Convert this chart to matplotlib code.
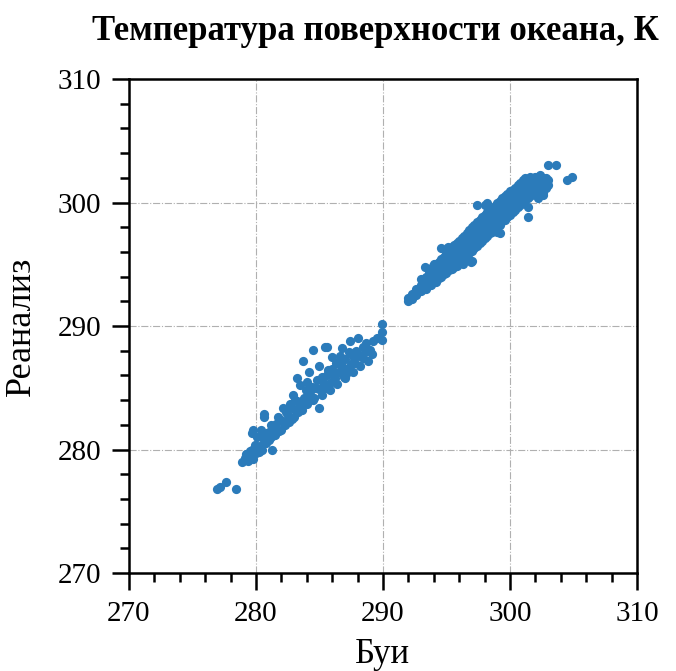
import numpy as np
import matplotlib.pyplot as plt
from matplotlib.ticker import MultipleLocator

# upper cluster (warm waters): buoys vs reanalysis, K
warm_buoy = [
    292.0, 292.0, 292.3, 292.3, 292.6, 292.6, 292.6,
    293.0, 293.0, 293.0, 293.4, 293.4, 293.4,
    293.8, 293.8, 293.8, 293.8, 294.2, 294.2, 294.2, 294.2,
    294.6, 294.6, 294.6, 294.6, 295.0, 295.0, 295.0, 295.0,
    295.4, 295.4, 295.4, 295.4, 295.4, 295.8, 295.8, 295.8, 295.8, 295.8,
    296.2, 296.2, 296.2, 296.2, 296.2, 296.6, 296.6, 296.6, 296.6, 296.6,
    297.0, 297.0, 297.0, 297.0, 297.0, 297.0,
    297.4, 297.4, 297.4, 297.4, 297.4, 297.4,
    297.8, 297.8, 297.8, 297.8, 297.8,
    298.2, 298.2, 298.2, 298.2, 298.2, 298.2,
    298.6, 298.6, 298.6, 298.6, 298.6,
    299.0, 299.0, 299.0, 299.0, 299.0, 299.0,
    299.4, 299.4, 299.4, 299.4, 299.4,
    299.8, 299.8, 299.8, 299.8, 299.8,
    300.2, 300.2, 300.2, 300.2, 300.2,
    300.6, 300.6, 300.6, 300.6, 300.6,
    301.0, 301.0, 301.0, 301.0, 301.0,
    301.4, 301.4, 301.4, 301.4, 301.4, 301.4,
    301.8, 301.8, 301.8, 301.8,
    302.2, 302.2, 302.2, 302.2, 302.2,
    302.6, 302.6, 302.6, 302.6,
    303.0, 303.0, 303.0, 303.6, 304.5, 304.9,
    # in-between rows
    293.2, 293.2, 293.6, 293.6, 293.6,
    294.0, 294.0, 294.0, 294.0, 294.4, 294.4, 294.4, 294.4,
    294.8, 294.8, 294.8, 294.8, 295.2, 295.2, 295.2, 295.2,
    295.6, 295.6, 295.6, 295.6, 295.6, 296.0, 296.0, 296.0, 296.0, 296.0,
    296.4, 296.4, 296.4, 296.4, 296.4, 296.8, 296.8, 296.8, 296.8, 296.8,
    297.2, 297.2, 297.2, 297.2, 297.2, 297.6, 297.6, 297.6, 297.6, 297.6,
    298.0, 298.0, 298.0, 298.0, 298.0, 298.0,
    298.4, 298.4, 298.4, 298.4, 298.4, 298.8, 298.8, 298.8, 298.8, 298.8,
    299.2, 299.2, 299.2, 299.2, 299.2, 299.6, 299.6, 299.6, 299.6, 299.6,
    300.0, 300.0, 300.0, 300.0, 300.0, 300.4, 300.4, 300.4, 300.4, 300.4,
    300.8, 300.8, 300.8, 300.8, 300.8, 301.2, 301.2, 301.2, 301.2, 301.2,
    301.6, 301.6, 301.6, 301.6, 301.6, 302.0, 302.0, 302.0, 302.0,
    302.4, 302.4, 302.4, 302.4, 302.8, 302.8, 302.8,
    # scattered edge points
    294.6, 295.1, 293.3, 293.9, 296.9, 296.3, 299.2, 302.6,
]
warm_rean = [
    292.0, 292.3, 292.2, 292.6, 292.5, 293.0, 292.8,
    292.8, 293.3, 293.8, 293.0, 293.5, 294.0,
    293.3, 293.8, 294.3, 294.6, 293.6, 294.1, 294.6, 295.0,
    294.0, 294.5, 295.0, 295.4, 294.3, 294.8, 295.3, 295.8,
    294.6, 295.1, 295.6, 296.1, 296.4, 294.9, 295.4, 295.9, 296.4, 296.7,
    295.3, 295.8, 296.3, 296.8, 297.1, 295.7, 296.2, 296.7, 297.2, 297.5,
    295.3, 296.1, 296.6, 297.1, 297.6, 298.0,
    296.5, 297.0, 297.5, 298.0, 298.4, 299.8,
    296.9, 297.4, 297.9, 298.4, 298.8,
    297.3, 297.8, 298.3, 298.8, 299.2, 300.0,
    297.6, 298.1, 298.6, 299.1, 299.5,
    297.6, 298.1, 298.6, 299.1, 299.6, 300.0,
    298.5, 299.0, 299.5, 300.0, 300.4,
    298.8, 299.3, 299.8, 300.3, 300.7,
    299.2, 299.7, 300.2, 300.7, 301.0,
    299.6, 300.1, 300.6, 301.1, 301.4,
    300.0, 300.5, 301.0, 301.5, 301.8,
    298.8, 299.6, 300.4, 300.9, 301.4, 301.8,
    300.7, 301.2, 301.6, 302.0,
    300.4, 301.0, 301.4, 301.8, 302.1,
    300.6, 301.2, 301.7, 302.0,
    301.4, 301.8, 303.0, 303.0, 301.8, 302.1,
    # in-between rows
    293.1, 293.6, 293.3, 293.8, 294.3,
    293.6, 294.1, 294.5, 295.0, 293.9, 294.3, 294.8, 295.2,
    294.2, 294.7, 295.2, 295.6, 294.5, 295.0, 295.5, 295.9,
    294.8, 295.3, 295.7, 296.2, 296.6, 295.1, 295.6, 296.1, 296.5, 296.9,
    295.5, 296.0, 296.5, 297.0, 297.3, 295.9, 296.4, 296.9, 297.4, 297.8,
    296.3, 296.8, 297.3, 297.8, 298.2, 296.7, 297.2, 297.7, 298.2, 298.6,
    297.1, 297.6, 298.1, 298.6, 299.0, 299.8,
    297.5, 297.9, 298.4, 298.9, 299.3, 297.8, 298.3, 298.8, 299.3, 299.7,
    298.2, 298.7, 299.2, 299.7, 300.1, 298.6, 299.1, 299.6, 300.1, 300.5,
    299.0, 299.5, 300.0, 300.5, 300.9, 299.4, 299.9, 300.4, 300.9, 301.2,
    299.8, 300.3, 300.8, 301.3, 301.6, 300.2, 300.7, 301.2, 301.6, 302.0,
    300.5, 301.0, 301.4, 301.8, 302.1, 300.8, 301.3, 301.7, 302.1,
    300.9, 301.4, 301.9, 302.2, 301.2, 301.6, 302.0,
    # scattered edge points
    296.3, 296.4, 294.8, 294.9, 295.2, 295.0, 297.5, 300.8,
]

# lower cluster (cold waters)
cold_buoy = [
    276.9, 277.2, 277.6, 278.4,
    278.9, 279.1, 279.4, 279.6, 279.3, 279.8, 280.0, 279.7,
    279.7, 279.8, 280.3, 280.6, 280.4, 281.3,
    280.6, 280.6, 281.0, 281.2, 281.4, 281.6, 281.8, 282.0, 282.1, 282.3,
    282.5, 282.4, 282.8, 283.0, 283.1, 283.3, 283.5, 282.9, 283.5, 283.8,
    284.0, 284.2, 284.4, 284.6, 284.8, 285.0, 285.0, 285.3, 285.5, 285.6,
    285.8, 286.0, 286.2, 286.3, 286.5, 286.8, 286.9, 287.0, 287.2, 287.4,
    287.5, 287.7, 287.9, 288.0, 288.2, 288.4, 288.6, 288.7, 289.1, 289.2,
    289.5, 289.9, 289.9, 289.9, 283.7, 284.5, 285.4, 285.6, 287.4, 286.8,
    284.2, 283.2, 285.0, 286.0, 284.0,
    280.0, 280.2, 280.5, 280.8, 281.0, 281.5, 282.0, 282.2, 282.6, 283.0,
    283.6, 284.0, 284.5, 285.2, 285.8, 286.4, 287.0, 287.6, 288.2, 288.8,
    279.2, 279.5, 279.9, 280.1, 280.4, 280.9, 281.2, 281.7, 282.4, 282.7,
    283.2, 283.9, 284.3, 284.7, 285.2, 285.7, 286.1, 286.6, 287.1, 287.8,
    288.4, 289.0, 286.5, 287.3,
]
cold_rean = [
    276.8, 277.0, 277.4, 276.8,
    279.0, 279.3, 279.1, 279.5, 279.6, 279.2, 279.7, 280.0,
    281.3, 281.6, 280.3, 280.8, 281.2, 280.0,
    282.6, 282.9, 281.4, 281.0, 281.7, 282.1, 281.5, 282.4, 283.4, 282.0,
    282.8, 283.2, 282.5, 283.3, 284.0, 283.0, 283.6, 284.4, 285.2, 284.2,
    283.7, 284.6, 285.1, 284.2, 285.6, 283.4, 284.9, 285.5, 285.0, 286.0,
    285.4, 286.5, 285.8, 287.0, 286.3, 286.8, 285.9, 287.3, 286.5, 287.8,
    286.9, 287.4, 288.0, 289.0, 287.6, 288.3, 287.9, 288.6, 287.7, 288.8,
    289.0, 288.9, 289.5, 290.2, 287.2, 288.1, 288.3, 288.3, 288.8, 288.2,
    286.3, 285.8, 286.8, 287.5, 285.5,
    280.2, 279.8, 280.0, 280.5, 280.8, 281.2, 281.6, 282.2, 282.2, 282.6,
    283.2, 284.2, 284.0, 284.4, 284.8, 285.3, 285.8, 286.3, 286.8, 287.2,
    279.6, 279.9, 280.4, 281.0, 281.6, 281.3, 282.0, 282.6, 283.0, 283.7,
    283.9, 284.8, 284.8, 285.0, 285.9, 286.4, 286.0, 287.6, 286.1, 287.0,
    287.4, 288.1, 286.9, 287.9,
]

plt.rcParams['font.family'] = ['Liberation Serif', 'DejaVu Serif']

fig = plt.figure(figsize=(6.76, 6.71), dpi=100)
ax = fig.add_axes([0.1908, 0.146, 0.7515, 0.7362])

ax.scatter(cold_buoy, cold_rean, s=44, color='#2b7bba', linewidths=0, zorder=3)
ax.scatter(warm_buoy, warm_rean, s=44, color='#2b7bba', linewidths=0, zorder=3)

ax.set_xlim(270, 310)
ax.set_ylim(270, 310)
ax.xaxis.set_major_locator(MultipleLocator(10))
ax.yaxis.set_major_locator(MultipleLocator(10))
ax.xaxis.set_minor_locator(MultipleLocator(2))
ax.yaxis.set_minor_locator(MultipleLocator(2))
ax.tick_params(which='major', direction='out', length=12, width=1.8, labelsize=21, pad=8)
ax.tick_params(which='minor', direction='out', length=6.5, width=1.8)
for sp in ax.spines.values():
    sp.set_linewidth(1.8)

ax.grid(True, which='major', linestyle='-.', color='#b0b0b0', linewidth=0.8, zorder=0)
ax.set_axisbelow(True)

ax.set_title('Температура поверхности океана, К', fontsize=25, fontweight='bold',
             pad=28, x=0.485)
ax.set_xlabel('Буи', fontsize=25, labelpad=8)
ax.set_ylabel('Реанализ', fontsize=26, labelpad=14)

plt.savefig('out.png', dpi=100)
print("Saved: out.png")
